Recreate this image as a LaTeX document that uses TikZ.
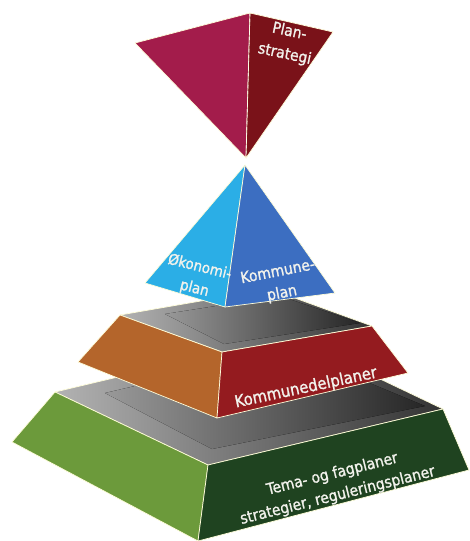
\documentclass[tikz,border=0pt]{standalone}
\usepackage{fontspec}
\setmainfont{DejaVu Sans Condensed}
\newfontfamily\labelfont{DejaVu Sans Condensed}[FakeBold=1.2]
\usepackage{tikz}
\usetikzlibrary{positioning}

\definecolor{psleft}{HTML}{A31C4B}
\definecolor{psright}{HTML}{7A1219}
\definecolor{kpleft}{HTML}{2BAEE6}
\definecolor{kpright}{HTML}{3C6EC1}
\definecolor{kdleft}{HTML}{B4652B}
\definecolor{kdright}{HTML}{941B1F}
\definecolor{tfleft}{HTML}{6C9A3B}
\definecolor{tfright}{HTML}{1F4320}
\definecolor{labeltext}{HTML}{F2F2EC}

\begin{document}
\begin{tikzpicture}[x=1pt,y=-1pt,
  face/.style={draw=white!85!yellow, line width=0.7pt, line join=round},
  top/.style={face, left color=black!30, right color=black!80},
  shadow/.style={left color=black!40, right color=black!85},
  label/.style={text=labeltext, align=center, inner sep=0pt}]
\useasboundingbox (0,0) rectangle (469,541);

% corners
\coordinate (ps-l) at (135,43);  \coordinate (ps-t) at (250,13);
\coordinate (ps-r) at (333,32);  \coordinate (ps-b) at (246,158);
\coordinate (kp-a) at (245,165); \coordinate (kp-l) at (145,283);
\coordinate (kp-f) at (225,307); \coordinate (kp-r) at (335,293);
\coordinate (kd-l) at (120,315); \coordinate (kd-b) at (270,289);
\coordinate (kd-r) at (372,326); \coordinate (kd-f) at (222,352);
\coordinate (kd-bl) at (78,362); \coordinate (kd-bf) at (217,418);
\coordinate (kd-br) at (408,373);
\coordinate (tf-l) at (55,392);  \coordinate (tf-b) at (290,336);
\coordinate (tf-r) at (443,409); \coordinate (tf-f) at (208,465);
\coordinate (tf-bl) at (12,442); \coordinate (tf-bf) at (198,541);
\coordinate (tf-br) at (469,470);

% bottom tier
\draw[top] (tf-l) -- (tf-b) -- (tf-r) -- (tf-f) -- cycle;
\fill[shadow] (105,393) -- (290,350) -- (425,406) -- (212,449) -- cycle;
\draw[face, fill=tfleft] (tf-l) -- (tf-f) -- (tf-bf) -- (tf-bl) -- cycle;
\draw[face, fill=tfright] (tf-f) -- (tf-r) -- (tf-br) -- (tf-bf) -- cycle;

% middle tier
\draw[top] (kd-l) -- (kd-b) -- (kd-r) -- (kd-f) -- cycle;
\fill[shadow] (165,314) -- (280,296) -- (360,323) -- (224,344) -- cycle;
\draw[face, fill=kdleft] (kd-l) -- (kd-f) -- (kd-bf) -- (kd-bl) -- cycle;
\draw[face, fill=kdright] (kd-f) -- (kd-r) -- (kd-br) -- (kd-bf) -- cycle;

% blue pyramid
\draw[face, fill=kpleft] (kp-a) -- (kp-f) -- (kp-l) -- cycle;
\draw[face, fill=kpright] (kp-a) -- (kp-r) -- (kp-f) -- cycle;

% inverted pyramid
\draw[face, fill=psleft] (ps-t) -- (ps-b) -- (ps-l) -- cycle;
\draw[face, fill=psright] (ps-t) -- (ps-r) -- (ps-b) -- cycle;
\draw[white, dashed, line width=0.5pt] (ps-t) -- (ps-b);

\node[label, font=\labelfont\fontsize{15.5}{23}\selectfont, rotate=-12] at (287,43)(planstrategi){Plan-\\strategi};
\node[label, font=\labelfont\fontsize{15}{22}\selectfont, rotate=-14] at (197,278)(okonomi){Økonomi-\\plan};
\node[label, font=\labelfont\fontsize{15.5}{22}\selectfont, rotate=11] at (280,283)(kommuneplan){Kommune-\\plan};
\node[label, font=\labelfont\fontsize{16.5}{20}\selectfont, rotate=12] at (306,388)(kommunedel){Kommunedelplaner};
\node[label, font=\labelfont\fontsize{15.5}{22}\selectfont, rotate=14] at (335,485)(tema){Tema- og fagplaner\\strategier, reguleringsplaner};
\end{tikzpicture}
\end{document}
